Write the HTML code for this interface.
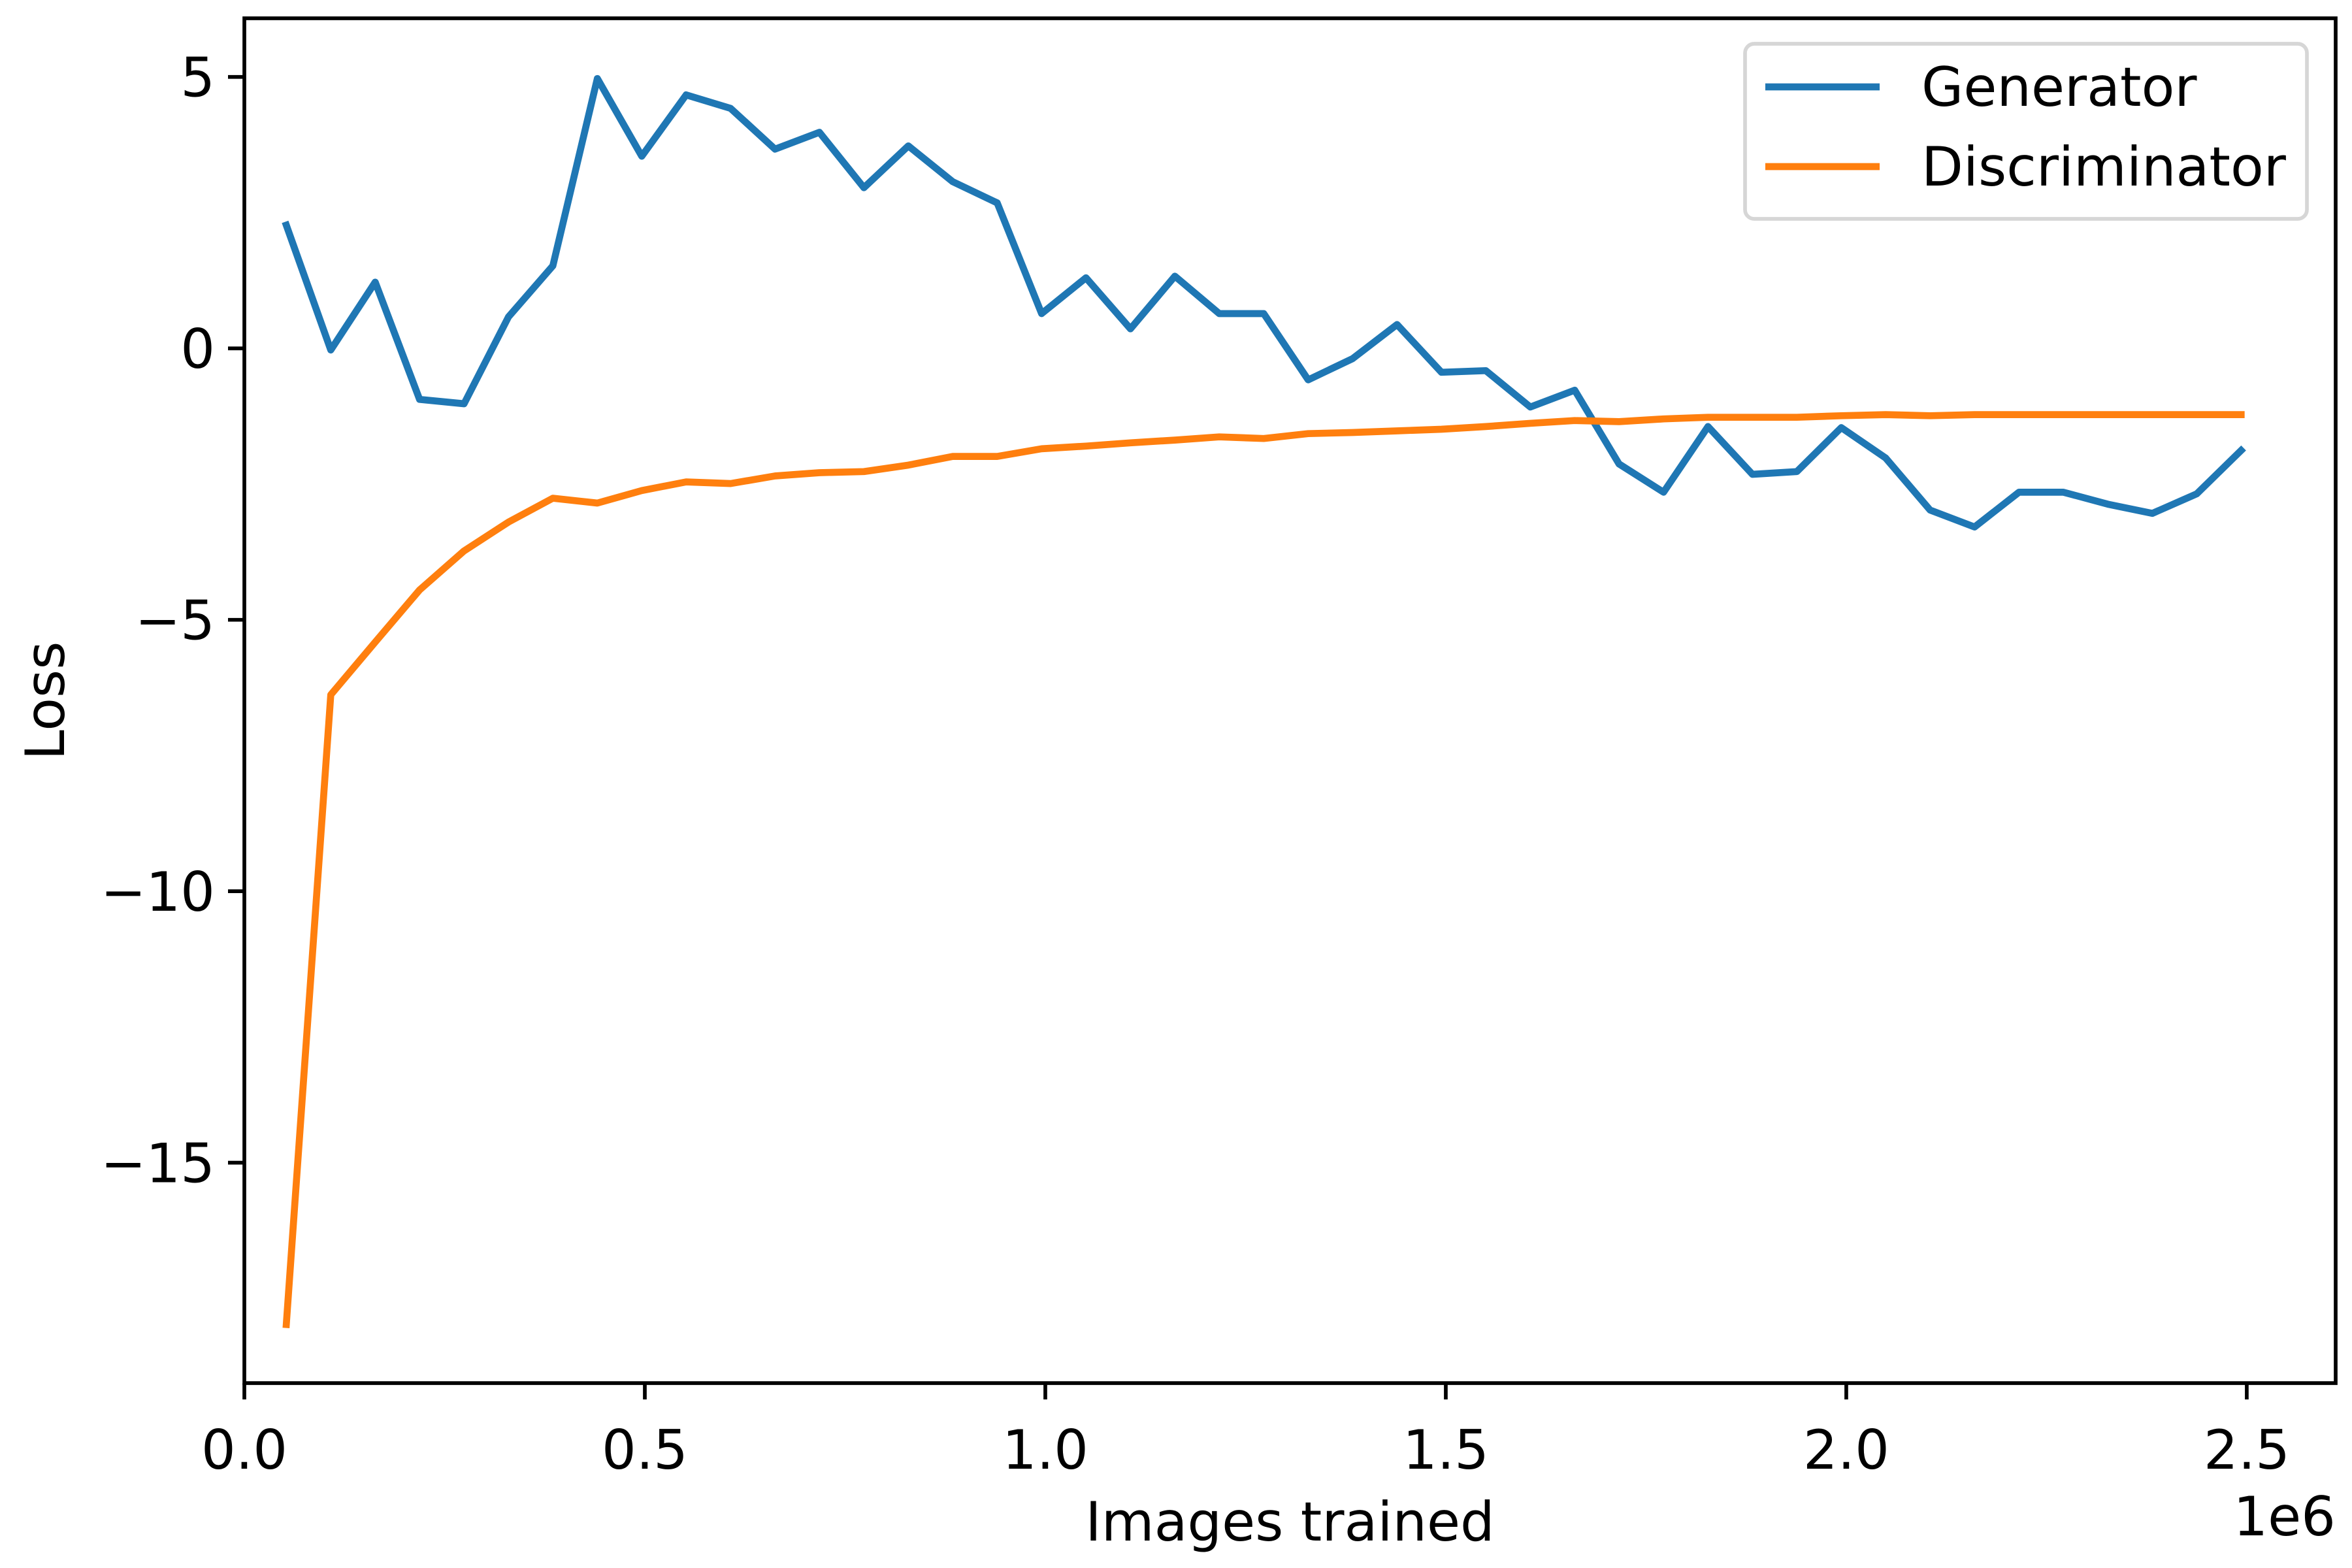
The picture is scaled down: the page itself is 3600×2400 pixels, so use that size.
<!DOCTYPE html>
<html><head><meta charset="utf-8"><style>
html,body{margin:0;padding:0;background:#fff;width:3600px;height:2400px;overflow:hidden}
svg text{font-family:"DejaVu Sans","Liberation Sans",sans-serif;fill:#000}
</style></head><body>
<svg id="chart" width="3600" height="2400" xmlns="http://www.w3.org/2000/svg">
<g id="plot"></g>
</svg>
<script>
const xValues=[0.0524,0.1079,0.1634,0.2188,0.2743,0.3298,0.3852,0.4407,0.4962,0.5516,0.6071,0.6626,0.7180,0.7735,0.8290,0.8844,0.9399,0.9954,1.0508,1.1063,1.1618,1.2172,1.2727,1.3282,1.3836,1.4391,1.4946,1.5500,1.6055,1.6610,1.7164,1.7719,1.8274,1.8828,1.9383,1.9938,2.0492,2.1047,2.1602,2.2156,2.2711,2.3266,2.3820,2.4375,2.4930];
const generator=[2.27,-0.03,1.22,-0.94,-1.02,0.58,1.52,4.97,3.54,4.67,4.42,3.67,3.98,2.96,3.73,3.07,2.68,0.64,1.30,0.36,1.33,0.64,0.64,-0.58,-0.19,0.44,-0.44,-0.41,-1.08,-0.77,-2.13,-2.65,-1.44,-2.32,-2.27,-1.46,-2.02,-2.98,-3.29,-2.65,-2.65,-2.87,-3.04,-2.68,-1.88];
const discriminator=[-17.98,-6.38,-5.41,-4.45,-3.73,-3.20,-2.76,-2.85,-2.62,-2.46,-2.49,-2.35,-2.29,-2.27,-2.15,-1.99,-1.99,-1.85,-1.80,-1.74,-1.69,-1.63,-1.66,-1.57,-1.55,-1.52,-1.49,-1.44,-1.38,-1.33,-1.35,-1.30,-1.27,-1.27,-1.27,-1.24,-1.22,-1.24,-1.22,-1.22,-1.22,-1.22,-1.22,-1.22,-1.22];
const xTicks=[0,0.5,1.0,1.5,2.0,2.5];
const xTickLabels=["0.0","0.5","1.0","1.5","2.0","2.5"];
const yTicks=[5,0,-5,-10,-15];
const yTickLabels=["5","0","\u22125","\u221210","\u221215"];

const L=374,R=3575,T=28,B=2117;
const xMin=0,xMax=2.611,yMin=-19.06,yMax=6.08;
const sx=v=>L+(v-xMin)/(xMax-xMin)*(R-L);
const sy=v=>B-(v-yMin)/(yMax-yMin)*(B-T);
const NS="http://www.w3.org/2000/svg";
const g=document.getElementById('plot');
function mk(tag,attrs,parent){const e=document.createElementNS(NS,tag);for(const k in attrs)e.setAttribute(k,attrs[k]);(parent||g).appendChild(e);return e;}
const FS=83;

function series(vals,color,name){
  const d=vals.map((v,i)=>(i?'L':'M')+sx(xValues[i]).toFixed(1)+' '+sy(v).toFixed(1)).join(' ');
  const p=mk('path',{d:d,fill:'none',stroke:color,'stroke-width':10.7,'stroke-linejoin':'round','stroke-linecap':'square'});
  
  
}
series(generator,'#1f77b4','generator-line');
series(discriminator,'#ff7f0e','discriminator-line');

xTicks.forEach((t,i)=>{
  const x=sx(t);
  const tk=mk('line',{x1:x,x2:x,y1:B,y2:B+25,stroke:'#000','stroke-width':5.7});
  
  
  const tx=mk('text',{x:x,y:B+131,'text-anchor':'middle','font-size':FS});
  tx.textContent=xTickLabels[i];
  
  
});
yTicks.forEach((t,i)=>{
  const y=sy(t);
  const tk=mk('line',{x1:L-25,x2:L,y1:y,y2:y,stroke:'#000','stroke-width':5.7});
  
  
  const tx=mk('text',{x:L-45,y:y+30,'text-anchor':'end','font-size':FS});
  tx.textContent=yTickLabels[i];
  
  
});
const frame=mk('rect',{x:L,y:T,width:R-L,height:B-T,fill:'none',stroke:'#000','stroke-width':5.7});



const xl=mk('text',{x:(L+R)/2,y:2358,'text-anchor':'middle','font-size':FS});
xl.textContent='Images trained';


const off=mk('text',{x:R,y:2350,'text-anchor':'end','font-size':FS});
off.textContent='1e6';


const yl=mk('text',{x:0,y:0,'text-anchor':'middle','font-size':FS,transform:'translate(98 '+((T+B)/2)+') rotate(-90)'});
yl.textContent='Loss';



const lg=mk('g',{});


mk('rect',{x:2671,y:67,width:860,height:268,rx:14,fill:'#fff',stroke:'#d6d6d6','stroke-width':5.7},lg);
[['Generator','#1f77b4',133],['Discriminator','#ff7f0e',255]].forEach(([n,c,y])=>{
  const ln=mk('line',{x1:2702,x2:2877,y1:y,y2:y,stroke:c,'stroke-width':10.7},lg);
  
  
  const t=mk('text',{x:2941,y:y+29,'font-size':FS},lg);
  t.textContent=n;
  
  
});
</script>
</body></html>
